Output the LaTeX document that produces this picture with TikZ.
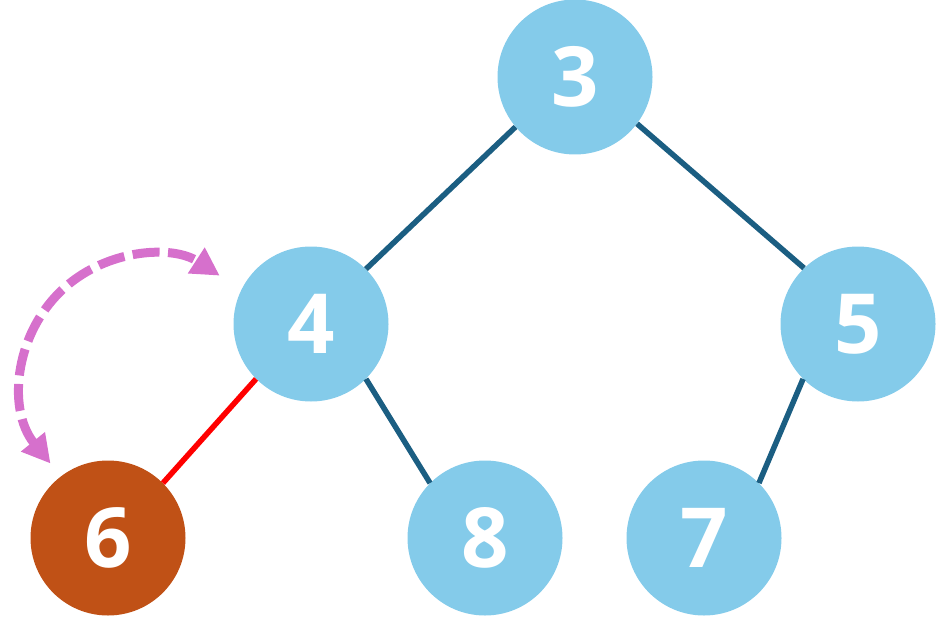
\documentclass[tikz,border=0pt]{standalone}
\usepackage{fontspec}
\setmainfont{Open Sans}
\usetikzlibrary{arrows.meta,calc}
\definecolor{nodeblue}{HTML}{84CBEA}
\definecolor{edgeblue}{HTML}{1B5E82}
\definecolor{nodeorange}{HTML}{C05116}
\definecolor{arcpink}{HTML}{D670CC}
\begin{document}
\begin{tikzpicture}[x=1pt,y=-1pt,
  heapnode/.style={circle, fill=nodeblue, minimum size=155pt, inner sep=0pt,
    text=white, font=\fontsize{83}{90}\selectfont\bfseries},
  hotnode/.style={heapnode, fill=nodeorange},
  edge/.style={line width=5.5pt, draw=edgeblue},
  hotedge/.style={line width=5.5pt, draw=red},
  swaparc/.style={line width=9pt, draw=arcpink, dash pattern=on 27pt off 8.5pt,
    {Triangle[length=28pt,width=29pt,fill=arcpink]}-{Triangle[length=28pt,width=29pt,fill=arcpink]}}
]
\useasboundingbox (0,0) rectangle (936,639);
\node[heapnode] (n3) at (575,77) {3};
\node[heapnode] (n4) at (311,324) {4};
\node[heapnode] (n5) at (858,324) {5};
\node[hotnode]  (n6) at (108,538) {6};
\node[heapnode] (n8) at (485,538) {8};
\node[heapnode] (n7) at (704,538) {7};
\draw[edge] (n3.220) -- (n4.north east);
\draw[edge] (n3.-37) -- (n5.134);
\draw[hotedge] (n4.south west) -- (n6.north east);
\draw[edge] (n4.south east) -- (n8.north west);
\draw[edge] (n5.south west) -- (n7.north east);
\coordinate (arcC) at (150,383);
\draw[swaparc] ($(arcC)+(141:128)$) arc[start angle=141, end angle=303, radius=128];
\end{tikzpicture}
\end{document}
